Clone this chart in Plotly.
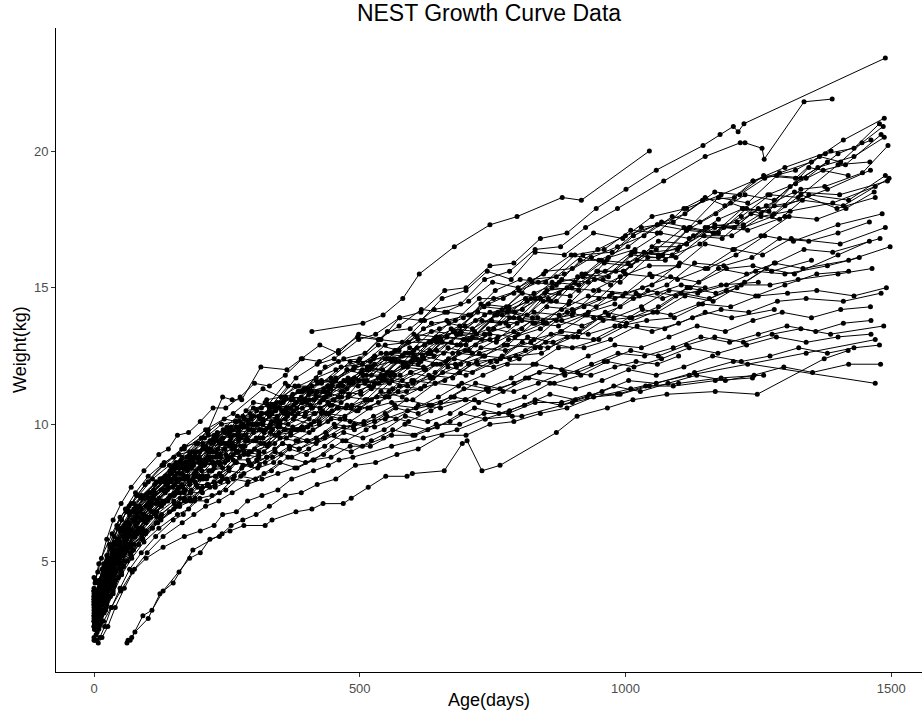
import plotly.graph_objects as go

# Repeated weight measurements per child, as (age in days, weight in kg)
c01 = [(0,3.9),(4,3.8),(9,4.2),(15,4.7),(24,5.2),(38,5.9),(52,6.5),(70,7.1),(96,7.8),(128,8.5),(165,9.1),(210,9.8),(262,10.4),(318,11.3),(352,11.0),(380,11.7),(420,12.2),(452,12.4),(498,13.1),(530,13.3),(575,13.9),(615,14.1),(660,14.9),(700,15.0),(745,15.8),(790,15.9),(840,16.8),(890,17.0),(945,17.9),(1001,18.6),(1058,19.3),(1146,20.2),(1178,20.6),(1203,20.9),(1212,20.7),(1223,21.0),(1489,23.4)]
c02 = [(1,3.6),(6,3.5),(12,3.9),(20,4.4),(33,5.0),(47,5.7),(63,6.3),(84,6.9),(110,7.5),(140,8.1),(182,8.8),(228,9.5),(275,10.1),(300,10.6),(334,10.7),(365,11.4),(398,11.3),(435,12.1),(470,12.4),(510,12.6),(552,13.4),(595,13.5),(640,14.2),(690,14.4),(735,15.3),(782,15.6),(830,16.4),(878,16.5),(925,17.2),(985,17.9),(1072,18.9),(1150,19.8),(1216,20.3),(1225,20.3),(1257,20.1),(1261,19.7),(1336,21.8),(1389,21.9)]
c03 = [(410,13.4),(506,13.7),(544,14.0),(581,14.6),(612,15.5),(678,16.5),(745,17.3),(796,17.6),(881,18.3),(917,18.2),(1045,20.0)]
c04 = [(2,4.2),(9,4.9),(34,6.0),(49,6.6),(66,7.0),(75,7.1),(124,8.0),(143,8.3),(154,8.6),(215,9.8),(242,11.0),(260,10.9),(278,10.9),(314,12.1),(363,12.0),(390,12.4),(425,12.9),(460,12.6),(498,13.3),(540,13.1),(575,13.9),(615,13.8),(655,14.6),(700,14.9),(740,15.6),(785,15.3),(830,16.3),(885,16.2),(940,17.0),(995,16.8),(1050,17.6),(1115,17.9),(1180,18.4),(1240,18.9),(1300,19.4),(1387,20.0)]
c05 = [(0,4.0),(5,3.9),(11,4.3),(19,4.8),(30,5.5),(45,6.2),(61,6.8),(80,7.4),(102,7.9),(131,8.5),(170,9.1),(214,9.7),(245,10.2),(268,10.1),(300,10.8),(327,10.7),(360,11.5),(392,11.2),(425,11.9),(460,12.3),(500,12.4),(538,13.1),(580,13.0),(622,13.8),(665,14.1),(709,14.0),(755,14.9),(802,15.3),(850,15.2),(905,16.2),(960,16.4),(1010,17.1),(1060,17.0),(1110,17.9),(1150,18.3),(1187,18.0),(1240,18.9),(1290,19.2),(1350,19.6),(1410,20.4),(1487,21.2)]
c06 = [(0,3.5),(3,3.4),(8,3.7),(14,4.1),(27,4.8),(41,5.6),(57,6.2),(76,6.9),(99,7.4),(126,8.0),(160,8.6),(205,9.3),(228,9.4),(250,9.9),(280,10.0),(306,10.5),(335,10.4),(361,11.0),(395,11.3),(428,11.5),(465,12.1),(505,12.2),(548,12.9),(590,13.0),(635,13.7),(680,13.8),(725,14.6),(770,14.6),(820,15.3),(870,15.4),(920,16.2),(975,16.3),(1030,17.2),(1090,17.4),(1145,18.2),(1205,18.3),(1260,19.1),(1320,19.0),(1365,19.8),(1405,19.6),(1445,20.3),(1485,20.9)]
c07 = [(2,3.8),(7,3.9),(13,4.3),(22,4.9),(36,5.6),(50,6.2),(68,6.8),(90,7.4),(117,7.9),(150,8.5),(175,8.8),(196,9.3),(220,9.4),(243,9.8),(270,10.3),(296,10.2),(325,10.9),(352,11.0),(385,11.4),(418,11.7),(455,12.0),(497,12.3),(535,12.9),(574,12.7),(620,13.5),(664,13.8),(705,14.0),(752,14.6),(800,14.9),(850,15.6),(900,15.7),(948,16.4),(1000,16.9),(1060,17.3),(1112,17.7),(1168,18.5),(1215,18.4),(1262,19.0),(1320,19.3),(1376,19.9),(1430,20.1),(1478,21.0)]
c08 = [(1,3.3),(6,3.2),(10,3.5),(18,3.9),(29,4.6),(44,5.3),(60,6.0),(79,6.6),(105,7.2),(136,7.8),(172,8.4),(198,8.6),(221,9.0),(246,9.3),(271,9.7),(300,9.8),(330,10.3),(358,10.4),(386,10.9),(418,11.1),(448,11.4),(485,11.6),(523,12.1),(560,12.3),(602,12.7),(645,13.2),(690,13.4),(735,14.0),(781,14.3),(828,14.8),(875,15.2),(920,15.4),(968,16.1),(1018,16.4),(1066,17.0),(1120,16.8),(1175,17.5),(1222,17.9),(1268,18.4),(1320,18.8),(1372,19.3),(1414,19.5),(1481,20.6)]
c09 = [(0,3.7),(4,3.6),(12,4.0),(21,4.6),(35,5.3),(53,6.1),(72,6.8),(95,7.3),(123,7.9),(158,8.4),(180,8.9),(199,9.0),(225,9.5),(248,9.7),(275,9.9),(301,10.3),(330,10.5),(357,10.9),(390,11.0),(421,11.5),(455,11.6),(489,12.1),(528,12.5),(566,12.7),(608,13.2),(650,13.5),(695,13.9),(742,14.4),(790,14.8),(836,15.2),(885,15.5),(936,16.1),(985,16.5),(1035,16.9),(1088,17.6),(1140,17.4),(1198,18.1),(1255,17.7),(1310,18.7),(1362,19.4),(1430,19.8),(1487,20.5)]
c10 = [(3,3.4),(8,3.5),(15,3.9),(26,4.4),(40,5.1),(58,5.9),(77,6.5),(101,7.1),(130,7.6),(166,8.2),(190,8.8),(212,8.7),(236,9.4),(260,9.3),(290,10.1),(318,10.0),(345,10.6),(376,10.5),(410,11.2),(442,11.1),(478,11.7),(514,11.6),(555,12.4),(596,12.3),(640,13.1),(683,12.9),(730,13.8),(775,13.7),(822,14.6),(870,14.5),(918,15.5),(968,15.4),(1018,16.3),(1070,16.2),(1122,17.2),(1175,17.0),(1228,17.9),(1280,17.7),(1330,18.6),(1375,18.7),(1446,19.2),(1494,20.2)]
c11 = [(0,3.0),(5,2.9),(9,3.2),(17,3.7),(31,4.4),(46,5.2),(62,5.9),(83,6.6),(108,7.2),(139,7.9),(178,8.6),(200,8.6),(224,9.4),(252,9.3),(280,10.0),(310,10.0),(340,10.7),(370,10.6),(403,11.3),(440,11.2),(476,12.0),(512,11.8),(550,12.6),(592,12.6),(635,13.4),(682,13.3),(728,14.4),(776,14.3),(824,15.2),(870,15.1),(915,16.0),(965,16.0),(1015,16.9),(1068,17.4),(1120,17.2),(1175,18.3),(1230,18.1),(1285,19.1),(1340,19.0),(1400,19.9),(1462,20.4)]
c12 = [(1,3.5),(7,3.6),(14,4.0),(24,4.5),(39,5.2),(55,5.9),(74,6.5),(98,7.0),(126,7.6),(161,8.2),(185,8.6),(204,8.6),(230,9.4),(255,9.2),(283,9.9),(311,9.8),(340,10.6),(372,10.4),(404,11.1),(436,11.0),(470,11.6),(508,11.6),(548,12.4),(588,12.2),(630,13.0),(672,13.0),(718,13.8),(764,13.7),(812,14.6),(860,14.5),(910,15.4),(958,15.3),(1010,16.2),(1062,16.1),(1115,17.1),(1168,17.0),(1220,17.9),(1270,17.8),(1345,19.4),(1419,19.1)]
c13 = [(0,3.1),(6,3.2),(13,3.6),(23,4.1),(37,4.8),(52,5.5),(70,6.1),(92,6.7),(119,7.2),(152,7.8),(172,8.4),(192,8.3),(215,9.0),(238,8.9),(263,9.6),(290,9.4),(318,10.2),(349,10.0),(380,10.8),(411,10.6),(445,11.3),(480,11.1),(518,12.0),(558,11.8),(598,12.6),(640,12.5),(685,13.3),(730,13.1),(778,14.1),(825,13.9),(875,14.8),(925,15.5),(972,15.1),(1022,16.0),(1075,16.0),(1128,16.9),(1182,16.8),(1236,17.7),(1290,17.5),(1345,18.4),(1420,18.2),(1489,19.1)]
c14 = [(2,3.3),(6,3.2),(11,3.6),(20,4.2),(34,4.9),(49,5.6),(66,6.3),(88,6.9),(115,7.5),(148,8.0),(168,8.5),(187,8.5),(210,9.2),(233,9.1),(258,9.8),(286,9.6),(315,10.4),(345,10.2),(375,10.9),(407,10.7),(440,11.4),(476,11.3),(514,12.1),(553,11.9),(594,12.8),(634,12.6),(676,13.4),(720,13.3),(768,14.2),(815,14.0),(862,15.0),(912,14.9),(960,15.9),(1010,15.8),(1062,16.7),(1115,16.6),(1168,17.2),(1222,17.3),(1280,18.0),(1333,18.2),(1410,18.0),(1496,19.0)]
c15 = [(0,3.6),(3,3.5),(10,3.8),(18,4.3),(30,4.9),(45,5.7),(64,6.3),(86,6.9),(112,7.4),(144,8.0),(163,8.4),(183,8.4),(205,9.1),(229,9.0),(255,9.7),(283,9.6),(312,10.2),(342,10.2),(370,10.9),(400,10.8),(432,11.3),(468,11.4),(505,12.0),(543,12.0),(585,12.6),(628,12.6),(672,13.5),(716,13.4),(760,14.1),(806,14.2),(852,14.9),(899,15.0),(948,15.6),(997,15.6),(1050,16.5),(1102,16.5),(1155,17.2),(1210,17.4),(1265,18.0),(1318,18.5),(1403,18.4),(1493,18.9)]
c16 = [(1,2.9),(5,2.8),(12,3.1),(21,3.6),(33,4.2),(48,4.9),(65,5.6),(86,6.2),(111,6.8),(143,7.4),(162,8.0),(181,7.9),(204,8.6),(226,8.5),(252,9.3),(279,9.2),(308,10.0),(336,9.8),(366,10.6),(398,10.4),(432,11.2),(466,11.0),(503,11.9),(540,11.7),(580,12.5),(620,12.4),(664,13.2),(708,13.1),(754,14.0),(800,13.9),(848,14.8),(896,14.7),(946,15.6),(996,15.6),(1048,16.3),(1098,16.4),(1150,17.2),(1205,17.2),(1250,17.9),(1300,18.0),(1380,18.6),(1461,19.3)]
c17 = [(0,3.2),(4,3.1),(8,3.4),(16,3.8),(28,4.4),(43,5.1),(59,5.8),(78,6.4),(103,7.0),(134,7.6),(152,8.1),(171,8.0),(193,8.8),(216,8.7),(240,9.3),(266,9.2),(294,10.0),(323,9.8),(353,10.5),(384,10.4),(418,11.0),(452,10.9),(490,11.7),(528,11.5),(568,12.3),(610,12.2),(655,13.0),(700,12.9),(748,13.8),(796,13.7),(845,14.5),(893,14.4),(942,15.3),(990,15.2),(1042,16.1),(1095,16.1),(1148,16.9),(1200,16.9),(1255,17.6),(1310,17.8),(1390,18.1),(1470,18.7)]
c18 = [(2,3.0),(7,3.1),(14,3.4),(25,3.9),(38,4.5),(54,5.2),(73,5.9),(96,6.5),(124,7.1),(159,7.7),(180,7.9),(201,8.5),(225,8.6),(250,8.8),(277,9.5),(305,9.4),(335,9.8),(365,10.4),(397,10.3),(430,10.5),(465,11.2),(502,11.1),(542,11.6),(582,12.1),(624,12.0),(667,12.4),(712,13.2),(757,13.0),(805,13.5),(852,14.3),(900,14.2),(950,14.6),(1000,15.5),(1050,15.4),(1100,15.8),(1150,16.6),(1202,16.4),(1255,16.9),(1308,17.6),(1360,17.5),(1415,17.9),(1468,18.5)]
c19 = [(0,3.4),(5,3.3),(10,3.6),(19,4.1),(32,4.7),(47,5.4),(63,6.0),(84,6.6),(108,7.1),(140,7.7),(158,7.9),(178,8.5),(200,8.4),(224,8.8),(250,9.3),(276,9.2),(305,9.5),(334,10.1),(365,10.0),(396,10.3),(430,10.9),(465,10.8),(502,11.2),(540,11.8),(580,11.6),(622,12.0),(666,12.8),(712,12.6),(758,13.1),(805,13.8),(852,13.7),(902,14.1),(950,14.9),(1000,14.8),(1050,15.1),(1102,15.9),(1155,15.7),(1208,16.2),(1262,16.9),(1316,16.7),(1400,17.3),(1483,17.7)]
c20 = [(1,2.7),(6,2.7),(13,3.0),(22,3.5),(35,4.2),(51,4.9),(69,5.6),(91,6.2),(118,6.8),(151,7.4),(170,7.6),(191,8.2),(214,8.1),(238,8.5),(264,9.1),(292,9.0),(320,9.3),(350,9.9),(382,9.8),(414,10.1),(448,10.7),(484,10.6),(522,10.9),(560,11.6),(600,11.5),(642,11.9),(686,12.6),(732,12.5),(778,12.9),(826,13.7),(874,13.6),(924,14.0),(975,14.8),(1026,14.7),(1078,15.1),(1130,15.9),(1185,15.8),(1238,16.1),(1290,16.8),(1345,16.7),(1400,17.0),(1459,17.4)]
c21 = [(0,3.8),(4,3.7),(9,4.0),(17,4.5),(29,5.1),(44,5.8),(60,6.4),(80,7.0),(105,7.5),(137,8.0),(155,8.5),(175,8.4),(198,8.7),(221,9.3),(246,9.1),(272,9.5),(300,10.0),(330,9.9),(360,10.2),(392,10.8),(425,10.6),(460,11.0),(498,11.6),(536,11.5),(576,11.8),(618,12.5),(662,12.3),(706,12.7),(752,13.5),(798,13.3),(846,13.7),(895,14.5),(945,14.3),(995,14.7),(1046,15.5),(1098,15.3),(1150,15.7),(1205,16.4),(1258,16.2),(1312,16.8),(1404,16.6),(1489,17.2)]
c22 = [(3,3.1),(8,3.2),(15,3.5),(27,4.0),(41,4.7),(57,5.4),(76,6.0),(100,6.6),(129,7.2),(165,7.8),(186,8.0),(208,8.5),(232,8.6),(258,8.8),(285,9.4),(314,9.3),(344,9.6),(375,10.2),(408,10.0),(442,10.4),(478,11.0),(515,10.9),(555,11.2),(596,11.9),(638,11.7),(682,12.1),(728,12.8),(774,12.7),(822,13.0),(870,13.8),(918,13.6),(968,14.0),(1020,14.8),(1070,14.6),(1122,15.0),(1175,15.7),(1228,15.5),(1282,15.9),(1336,16.4),(1390,16.3),(1479,16.8)]
c23 = [(0,2.6),(5,2.6),(12,2.9),(20,3.4),(31,4.0),(46,4.7),(62,5.4),(82,6.0),(107,6.6),(139,7.2),(157,7.5),(176,8.1),(199,8.0),(222,8.3),(248,8.9),(274,8.8),(302,9.1),(332,9.7),(362,9.5),(394,9.8),(428,10.4),(463,10.2),(500,10.6),(540,11.2),(580,11.0),(622,11.4),(666,12.1),(712,11.9),(758,12.3),(806,13.0),(854,12.8),(902,13.2),(952,13.9),(1002,13.7),(1052,14.1),(1105,14.8),(1158,14.6),(1210,15.0),(1265,15.7),(1318,15.5),(1400,16.2),(1459,16.7)]
c24 = [(1,3.3),(6,3.3),(11,3.7),(19,4.2),(33,4.9),(48,5.6),(65,6.2),(86,6.8),(112,7.3),(145,7.9),(164,8.0),(184,8.6),(206,8.5),(230,8.8),(256,9.4),(284,9.2),(312,9.5),(343,10.1),(374,9.9),(405,10.2),(440,10.8),(474,10.6),(512,10.9),(550,11.6),(590,11.4),(633,11.7),(678,12.4),(722,12.2),(768,12.5),(816,13.2),(864,13.0),(913,13.4),(962,14.1),(1012,13.9),(1062,14.3),(1116,15.0),(1170,14.8),(1224,15.2),(1280,15.9),(1334,15.7),(1420,16.0),(1498,16.5)]
c25 = [(0,3.0),(4,2.9),(10,3.2),(18,3.7),(30,4.3),(45,5.0),(62,5.6),(83,6.2),(108,6.8),(140,7.3),(160,7.7),(180,7.8),(203,8.3),(226,8.4),(252,8.7),(280,9.1),(310,9.0),(340,9.6),(370,9.7),(402,9.9),(436,10.4),(472,10.3),(510,10.9),(548,11.0),(588,11.2),(630,11.8),(675,11.7),(720,12.3),(765,12.4),(812,12.7),(860,13.3),(910,13.2),(958,13.8),(1008,13.9),(1060,14.1),(1112,14.7),(1165,14.5),(1218,15.1),(1272,15.1),(1325,15.3),(1400,15.5),(1464,15.7)]
c26 = [(2,3.4),(7,3.4),(14,3.8),(24,4.3),(38,4.9),(54,5.5),(72,6.1),(95,6.6),(122,7.1),(156,7.6),(176,8.0),(198,8.1),(222,8.6),(246,8.6),(272,9.0),(300,9.4),(330,9.3),(360,9.8),(392,9.9),(424,10.1),(458,10.6),(494,10.5),(532,11.0),(572,11.2),(614,11.3),(656,11.9),(700,11.8),(746,12.3),(794,12.5),(842,12.6),(890,13.2),(940,13.1),(990,13.6),(1040,13.8),(1092,13.9),(1145,14.4),(1198,14.3),(1250,14.7),(1305,14.8),(1360,14.9),(1430,14.7),(1491,15.0)]
c27 = [(0,2.8),(5,2.8),(11,3.1),(21,3.6),(34,4.2),(50,4.9),(68,5.5),(90,6.1),(117,6.7),(150,7.2),(170,7.5),(190,7.9),(212,8.0),(236,8.2),(262,8.7),(290,8.7),(320,9.0),(350,9.5),(380,9.4),(412,9.8),(446,10.2),(482,10.1),(520,10.6),(560,10.8),(600,10.9),(642,11.5),(686,11.4),(732,11.8),(778,12.2),(826,12.2),(874,12.8),(922,12.8),(972,13.1),(1022,13.6),(1074,13.5),(1126,13.9),(1180,14.2),(1232,14.1),(1286,14.5),(1340,14.6),(1410,14.5),(1481,14.8)]
c28 = [(1,2.5),(6,2.5),(13,2.8),(23,3.3),(36,3.9),(52,4.6),(70,5.2),(92,5.8),(120,6.4),(154,7.0),(174,7.2),(195,7.7),(218,7.7),(242,8.0),(268,8.6),(296,8.5),(325,8.8),(355,9.3),(386,9.1),(418,9.5),(452,10.0),(488,9.9),(526,10.3),(566,10.7),(606,10.6),(648,11.0),(692,11.5),(738,11.3),(785,11.7),(832,12.2),(880,12.0),(930,12.5),(980,12.9),(1030,12.8),(1082,13.2),(1135,13.6),(1188,13.4),(1240,13.8),(1295,14.1),(1350,13.9),(1405,14.2),(1461,14.3)]
c29 = [(0,3.6),(4,3.5),(8,3.9),(15,4.4),(26,5.0),(40,5.7),(56,6.3),(75,6.9),(99,7.4),(128,8.0),(146,8.2),(164,8.7),(186,8.7),(208,9.1),(232,9.6),(258,9.5),(286,9.9),(315,10.4),(345,10.3),(376,10.7),(410,11.2),(444,11.1),(480,11.5),(520,12.1),(560,11.9),(600,12.4),(645,13.0),(690,12.9),(735,13.3),(782,13.9),(830,13.7),(880,14.2),(930,14.7),(980,14.6),(1032,15.0),(1085,15.4),(1138,15.2),(1190,15.7),(1240,15.8),(1275,15.6),(1350,16.0)]
c30 = [(2,3.2),(8,3.3),(16,3.7),(27,4.3),(42,5.0),(59,5.7),(79,6.3),(104,6.9),(134,7.5),(170,8.1),(192,8.2),(214,8.8),(238,8.8),(264,9.2),(292,9.8),(320,9.7),(350,10.1),(382,10.6),(416,10.4),(450,10.9),(488,11.5),(526,11.4),(566,11.8),(608,12.4),(652,12.2),(698,12.7),(745,13.3),(792,13.2),(840,13.5),(890,14.1),(940,13.9),(990,14.3),(1042,14.9),(1095,14.7),(1140,14.9),(1180,15.1),(1250,15.2)]
c31 = [(0,2.9),(5,2.8),(12,3.1),(22,3.6),(35,4.2),(51,4.9),(69,5.5),(91,6.0),(118,6.6),(151,7.1),(170,7.3),(192,7.8),(215,7.8),(240,8.1),(266,8.6),(295,8.5),(325,8.8),(355,9.3),(386,9.1),(420,9.4),(454,9.9),(490,9.8),(528,10.1),(568,10.6),(610,10.4),(652,10.8),(696,11.3),(742,11.2),(790,11.5),(838,11.9),(886,11.8),(936,12.2),(986,12.6),(1036,12.5),(1090,12.8),(1142,13.2),(1196,13.0),(1250,13.3),(1304,13.6),(1358,13.4),(1410,13.7),(1462,13.8)]
c32 = [(1,3.1),(7,3.2),(14,3.5),(25,4.0),(39,4.6),(56,5.3),(75,5.9),(98,6.4),(127,7.0),(162,7.5),(183,7.6),(205,8.1),(230,8.1),(254,8.4),(282,8.9),(310,8.8),(340,9.1),(370,9.6),(402,9.4),(436,9.7),(472,10.2),(508,10.0),(548,10.4),(588,10.9),(630,10.7),(672,11.0),(718,11.5),(764,11.3),(812,11.7),(860,12.1),(910,11.9),(960,12.3),(1010,12.7),(1062,12.5),(1115,12.9),(1168,13.2),(1222,13.0),(1276,13.3),(1330,13.5),(1386,13.3),(1486,13.6)]
c33 = [(0,2.2),(4,2.3),(10,2.6),(19,3.1),(31,3.7),(46,4.4),(63,5.0),(84,5.6),(110,6.2),(142,6.8),(161,7.0),(181,7.5),(204,7.5),(228,7.8),(254,8.3),(282,8.2),(311,8.5),(341,9.0),(372,8.8),(404,9.1),(438,9.6),(474,9.4),(512,9.8),(551,10.3),(592,10.1),(634,10.5),(678,11.0),(724,10.8),(770,11.2),(818,11.7),(866,11.5),(916,11.8),(966,12.3),(1016,12.1),(1068,12.4),(1120,12.8),(1174,12.6),(1228,12.9),(1284,13.2),(1340,13.0),(1400,13.2),(1462,13.3)]
c34 = [(2,2.7),(6,2.7),(13,3.0),(24,3.5),(38,4.1),(55,4.8),(74,5.4),(97,6.0),(126,6.5),(161,7.0),(182,7.2),(204,7.7),(228,7.7),(252,7.9),(280,8.5),(308,8.4),(338,8.6),(368,9.1),(400,8.9),(434,9.2),(470,9.7),(506,9.5),(546,9.8),(586,10.3),(628,10.1),(670,10.4),(716,10.9),(762,10.7),(810,11.0),(858,11.5),(906,11.3),(956,11.6),(1006,12.0),(1058,11.8),(1110,12.1),(1164,12.5),(1218,12.3),(1272,12.5),(1326,12.8),(1380,12.6),(1430,12.8),(1478,12.9)]
c35 = [(0,2.1),(5,2.1),(11,2.2),(20,2.6),(33,3.3),(49,4.0),(67,4.7),(89,5.3),(116,5.9),(149,6.5),(168,6.7),(189,7.2),(212,7.2),(236,7.5),(262,8.0),(290,7.9),(320,8.2),(350,8.6),(382,8.4),(414,8.7),(448,9.2),(484,9.0),(522,9.4),(562,9.8),(604,9.6),(646,9.9),(690,10.4),(736,10.2),(782,10.5),(830,10.9),(878,10.7),(928,11.0),(978,11.4),(1028,11.2),(1080,11.5),(1134,11.8),(1188,11.6),(1242,11.8),(1298,12.1),(1352,11.9),(1420,12.2),(1480,12.2)]
c36 = [(1,2.5),(6,2.4),(12,2.7),(22,3.2),(36,3.8),(52,4.5),(71,5.1),(94,5.7),(122,6.2),(157,6.7),(178,6.9),(199,7.3),(222,7.4),(248,7.6),(276,8.1),(304,8.0),(334,8.3),(365,8.8),(398,8.6),(432,8.9),(468,9.4),(505,9.2),(545,9.5),(585,10.0),(628,9.8),(670,10.1),(716,10.6),(762,10.4),(810,10.7),(858,11.1),(906,10.9),(956,11.2),(1006,11.6),(1058,11.5),(1130,11.9),(1203,12.3),(1470,11.5)]
c37 = [(62,2.0),(68,2.1),(77,2.4),(102,2.9),(124,3.8),(149,4.2),(186,5.4),(241,6.0),(256,6.1),(282,6.3),(322,6.3),(335,6.5),(380,6.8),(410,6.9),(431,7.1),(469,7.1),(484,7.3),(516,7.7),(549,8.1),(589,8.1),(599,8.2),(659,8.3),(693,9.3),(702,9.4),(730,8.3),(764,8.5),(870,9.7),(909,10.3),(966,10.6),(1014,10.9),(1078,11.1),(1169,11.2),(1248,11.1),(1374,12.4),(1419,12.7)]
c38 = [(64,2.1),(71,2.2),(92,3.0),(109,3.2),(130,3.9),(160,4.6),(180,5.1),(200,5.3),(218,5.8),(236,5.9),(258,6.3),(280,6.5),(305,6.7),(330,7.0),(360,7.4),(390,7.5),(420,7.8),(455,8.0),(492,8.5),(530,8.6),(570,8.9),(610,9.1),(655,9.6),(700,9.6),(745,10.0),(790,10.1),(840,10.4),(890,10.6),(940,11.0),(990,11.1),(1045,11.4),(1100,11.5),(1180,11.7),(1260,11.8)]
c39 = [(3,2.5),(9,2.5),(18,2.8),(32,3.3),(50,3.9),(72,4.6),(98,5.1),(130,5.5),(170,5.9),(200,6.1),(226,6.3),(242,6.7),(268,6.8),(289,7.2),(316,7.4),(346,7.6),(372,8.0),(413,8.3),(441,8.5),(461,8.7),(487,8.8),(560,9.2),(620,9.5),(683,9.8),(736,10.2),(787,10.3),(805,10.3),(900,10.8),(1010,11.3),(1120,11.8),(1230,12.2),(1340,12.6),(1470,13.1)]
c40 = [(2,2.1),(8,2.0),(15,2.2),(26,2.6),(40,3.3),(57,4.0),(76,4.7),(100,5.3),(130,5.9),(166,6.4),(188,6.7),(210,7.0),(235,7.2),(260,7.5),(288,7.8),(316,8.0),(346,8.2),(378,8.4),(412,8.7),(446,8.8),(482,9.2),(520,9.2),(560,9.6),(600,9.6),(644,10.0),(688,10.0),(734,10.4),(780,10.4),(830,10.8),(880,10.8),(932,11.1),(985,11.1),(1038,11.4),(1090,11.4),(1169,11.6),(1239,11.7)]
c41 = [(0,3.5),(4,3.4),(9,3.8),(16,4.3),(27,4.9),(41,5.6),(58,6.2),(78,6.8),(102,7.3),(132,7.9),(150,8.3),(168,8.4),(190,8.9),(212,9.1),(236,9.3),(262,9.8),(290,10.0),(318,10.1),(348,10.6),(380,10.8),(414,10.9),(448,11.5),(484,11.6),(522,11.8),(562,12.4),(602,12.5),(645,12.7),(690,13.3),(735,13.3),(780,13.6),(828,14.1),(875,14.0),(922,14.3),(970,14.7),(1015,14.6),(1060,14.8),(1105,15.1),(1150,15.0)]
c42 = [(1,3.0),(5,3.0),(10,3.3),(18,3.8),(30,4.4),(45,5.1),(62,5.8),(82,6.4),(107,7.0),(138,7.6),(156,8.0),(176,8.1),(198,8.7),(220,8.8),(246,9.1),(272,9.6),(300,9.7),(330,9.9),(360,10.5),(392,10.6),(425,10.8),(460,11.4),(497,11.4),(535,11.7),(575,12.3),(615,12.3),(658,12.6),(700,13.1),(745,13.1),(790,13.4),(835,13.9),(880,13.8),(930,14.1),(980,14.4)]
c43 = [(0,3.7),(6,3.7),(12,4.1),(22,4.7),(35,5.4),(50,6.1),(67,6.7),(88,7.3),(114,7.8),(146,8.4),(166,8.8),(186,9.0),(208,9.5),(232,9.7),(258,9.9),(286,10.5),(315,10.6),(345,10.8),(378,11.4),(410,11.4),(446,11.7),(482,12.3),(520,12.3),(560,12.6),(602,13.3),(644,13.2),(688,13.6),(734,14.3),(780,14.2),(830,14.6),(880,15.3),(930,15.2),(982,15.6),(1035,16.3),(1088,16.2),(1140,16.6),(1185,17.2),(1230,17.1),(1300,17.6)]
c44 = [(2,3.3),(7,3.3),(13,3.6),(23,4.1),(37,4.8),(53,5.5),(72,6.1),(94,6.7),(122,7.3),(156,7.9),(176,8.3),(198,8.4),(222,9.0),(246,9.1),(272,9.4),(302,10.0),(332,10.0),(364,10.3),(398,10.9),(432,10.9),(468,11.2),(506,11.8),(548,11.8),(590,12.1),(632,12.7),(675,12.6),(718,12.9),(760,13.2)]
c45 = [(0,3.9),(4,3.8),(10,4.2),(19,4.8),(31,5.5),(46,6.2),(63,6.9),(84,7.4),(110,8.0),(142,8.5),(160,8.9),(180,9.0),(202,9.5),(226,9.6),(252,9.8),(280,10.3),(310,10.3),(340,10.5),(372,11.0),(405,10.9),(440,11.1),(475,11.6),(510,11.5),(545,11.7),(582,12.2),(620,12.1)]
c46 = [(1,2.6),(6,2.6),(13,2.9),(24,3.4),(38,4.1),(55,4.8),(74,5.4),(98,6.1),(127,6.7),(162,7.3),(182,7.5),(205,8.0),(228,8.1),(254,8.4),(282,9.0),(310,8.9),(340,9.3),(372,9.8),(405,9.7),(440,10.1),(476,10.7),(515,10.6),(555,11.0),(598,11.6),(642,11.5),(688,11.9),(735,12.5),(782,12.4),(830,12.8),(880,13.4),(930,13.3),(980,13.6),(1032,14.2),(1085,14.0),(1138,14.4),(1190,14.9),(1245,14.7),(1300,15.1),(1360,15.5),(1420,15.6)]
c47 = [(0,3.4),(5,3.4),(11,3.8),(20,4.3),(33,5.0),(48,5.7),(65,6.4),(86,7.0),(112,7.6),(144,8.2),(163,8.6),(183,8.7),(205,9.2),(229,9.5),(255,9.6),(283,10.2),(312,10.3),(342,10.5),(374,11.1),(406,11.2),(440,11.4),(476,12.0),(514,12.0),(552,12.4),(592,13.0),(634,13.0),(678,13.4),(722,14.1),(768,14.0),(815,14.5),(862,15.2),(912,15.1),(962,15.6),(1012,16.3),(1062,16.2),(1115,16.6),(1168,17.3),(1222,17.2),(1276,17.6),(1330,18.4),(1398,17.9),(1470,18.3)]
c48 = [(2,3.0),(7,3.1),(14,3.4),(26,3.9),(40,4.6),(57,5.3),(77,5.9),(101,6.5),(131,7.1),(167,7.7),(188,8.1),(211,8.1),(236,8.6),(262,8.9),(290,8.9),(318,9.5),(348,9.7),(380,9.8),(414,10.4),(448,10.5),(485,10.7),(522,11.3),(562,11.3),(602,11.6),(645,12.2),(690,12.2),(735,12.5),(780,13.1),(828,13.1),(878,13.4),(928,14.0),(978,13.9),(1030,14.3),(1082,14.9),(1136,14.8),(1190,15.1),(1245,15.6),(1300,15.5),(1380,15.8),(1440,16.1)]
c49 = [(0,2.8),(4,2.8),(9,3.1),(17,3.6),(29,4.2),(43,4.9),(60,5.5),(80,6.1),(105,6.6),(135,7.2),(153,7.5),(172,7.6),(194,8.1),(216,8.3),(242,8.4),(268,9.0),(296,9.0),(326,9.2),(358,9.8),(390,9.8),(424,10.0),(460,10.6),(497,10.5),(535,10.8),(575,11.4),(615,11.3),(660,11.6),(705,12.2),(752,12.1),(800,12.4),(850,13.0),(900,12.8),(950,13.1),(1000,13.6),(1050,13.4),(1100,13.7),(1150,14.1),(1200,13.9),(1280,14.2)]
c50 = [(1,3.2),(5,3.1),(10,3.5),(18,4.0),(30,4.7),(44,5.4),(61,6.1),(81,6.7),(106,7.3),(137,7.9),(156,8.2),(175,8.6),(198,8.8),(220,9.1),(246,9.7),(272,9.8),(300,10.0),(330,10.6),(362,10.6),(394,10.9),(428,11.6),(464,11.5),(502,11.9),(540,12.6),(580,12.5),(622,12.9),(668,13.7),(712,13.5),(758,14.0),(806,14.8),(855,14.6),(905,15.2),(955,16.0),(1005,15.9),(1058,16.4),(1110,17.2),(1165,17.0),(1218,17.6),(1272,18.4),(1325,18.3),(1400,19.5),(1460,19.6)]
c51 = [(0,2.6),(6,2.6),(12,2.9),(21,3.4),(34,4.0),(50,4.7),(68,5.3),(90,5.9),(117,6.4),(150,6.9),(170,7.2),(190,7.3),(213,7.8),(238,7.9),(264,8.1),(292,8.6),(322,8.6),(352,8.9),(384,9.4),(418,9.3),(452,9.6),(490,10.0),(528,9.9),(568,10.2),(610,10.7),(652,10.6),(698,10.9),(742,11.3),(790,11.2),(836,11.5),(885,11.9),(935,11.8),(980,12.1),(1020,12.3),(1060,12.2),(1100,12.5)]
c52 = [(0,4.4),(3,4.3),(7,4.6),(14,5.1),(24,5.8),(36,6.5),(51,7.1),(70,7.7),(94,8.3),(122,8.9),(140,9.1),(157,9.6),(178,9.7),(200,10.1),(224,10.6),(248,10.6),(275,11.0),(302,11.5),(330,11.4),(360,11.8),(392,12.4),(424,12.3),(460,12.7),(496,13.2),(535,13.1),(574,13.6),(616,14.2),(660,14.1),(705,14.5),(750,15.2),(798,15.0),(846,15.5),(898,16.2),(950,16.0),(1005,16.5),(1060,17.3),(1115,17.1),(1170,17.7),(1225,18.4),(1280,18.2),(1330,19.0),(1380,19.6)]
c53 = [(1,3.1),(6,3.0),(12,3.4),(22,3.9),(35,4.6),(50,5.3),(68,5.9),(90,6.5),(116,7.1),(148,7.7),(168,8.0),(188,8.2),(210,8.6),(234,8.9),(260,9.1),(288,9.5),(316,9.8),(346,9.9),(378,10.3),(410,10.6),(444,10.7),(480,11.1),(518,11.4),(556,11.5),(596,11.9),(638,12.2),(680,12.2),(725,12.6),(772,12.9),(840,12.8)]
c54 = [(0,3.3),(5,3.3),(10,3.6),(18,4.2),(30,4.9),(44,5.6),(60,6.3),(80,6.9),(104,7.5),(134,8.1),(152,8.4),(172,8.6),(194,9.0),(218,9.4),(242,9.5),(268,9.9),(296,10.3),(326,10.4),(356,10.8),(388,11.2),(420,11.2),(455,11.7),(490,12.1),(528,12.2),(568,12.7),(610,13.1),(652,13.1),(698,13.6),(745,14.1),(792,14.1),(840,14.6),(890,15.0),(940,14.9),(990,15.4),(1045,15.8),(1100,15.8)]
c55 = [(2,2.9),(7,2.9),(14,3.2),(25,3.7),(40,4.3),(56,5.0),(75,5.6),(98,6.1),(126,6.6),(160,7.1),(180,7.3),(202,7.6),(226,7.9),(250,8.0),(278,8.4),(306,8.7),(336,8.8),(368,9.2),(400,9.4),(434,9.5),(470,9.9),(508,10.1),(548,10.2),(590,10.5),(635,10.7),(700,10.9)]
c56 = [(0,3.9),(5,3.9),(10,4.3),(18,4.9),(29,5.6),(43,6.3),(59,6.9),(78,7.5),(102,8.1),(132,8.6),(150,8.8),(170,9.2),(192,9.3),(215,9.6),(240,10.0),(266,10.1),(294,10.4),(322,10.8),(352,10.8),(384,11.2),(418,11.6),(452,11.6),(488,12.0),(526,12.4),(566,12.4),(608,12.8),(650,13.2),(695,13.1),(742,13.5),(790,13.9),(845,13.8),(900,14.0)]

children = [c01, c02, c03, c04, c05, c06, c07, c08, c09, c10, c11, c12, c13, c14,
            c15, c16, c17, c18, c19, c20, c21, c22, c23, c24, c25, c26, c27, c28,
            c29, c30, c31, c32, c33, c34, c35, c36, c37, c38, c39, c40, c41, c42,
            c43, c44, c45, c46, c47, c48, c49, c50, c51, c52, c53, c54, c55, c56]

x_ticks = [0, 500, 1000, 1500]
y_ticks = [5, 10, 15, 20]

fig = go.Figure()
for visits in children:
    fig.add_trace(go.Scatter(
        x=[age for age, _ in visits],
        y=[kg for _, kg in visits],
        mode="lines+markers",
        line=dict(color="black", width=1),
        marker=dict(color="black", size=5),
        showlegend=False, hoverinfo="skip",
    ))

W, H = 922, 717
L, R, T, B = 56, 0, 28, 45

axis_common = dict(showgrid=False, zeroline=False, showline=True, linecolor="black", linewidth=1,
                   ticks="outside", ticklen=4, tickcolor="#333333", tickwidth=1,
                   tickfont=dict(size=13, color="#4D4D4D"))

fig.update_layout(
    width=W, height=H,
    margin=dict(l=L, r=R, t=T, b=B),
    paper_bgcolor="white", plot_bgcolor="white",
    font=dict(family="Liberation Sans, Arial, sans-serif", color="black"),
    title=dict(text="NEST Growth Curve Data", x=0.5, xref="paper",
               y=1 - 13 / H, yref="container", yanchor="middle",
               font=dict(size=23, color="black")),
    xaxis=dict(range=[-71.5, 1558], tickvals=x_ticks, ticktext=[str(v) for v in x_ticks], **axis_common),
    yaxis=dict(range=[0.94, 24.5], tickvals=y_ticks, ticktext=[str(v) for v in y_ticks], **axis_common),
    annotations=[
        dict(text="Age(days)", xref="paper", yref="paper", x=0.5, y=-(700 - (H - B)) / (H - T - B),
             showarrow=False, xanchor="center", yanchor="middle", font=dict(size=18, color="black")),
        dict(text="Weight(kg)", xref="paper", yref="paper", x=-(L - 20) / (W - L - R), y=(H - B - 350) / (H - T - B),
             showarrow=False, xanchor="center", yanchor="middle", textangle=-90, font=dict(size=18, color="black")),
    ],
)

fig.write_html("out.html")
